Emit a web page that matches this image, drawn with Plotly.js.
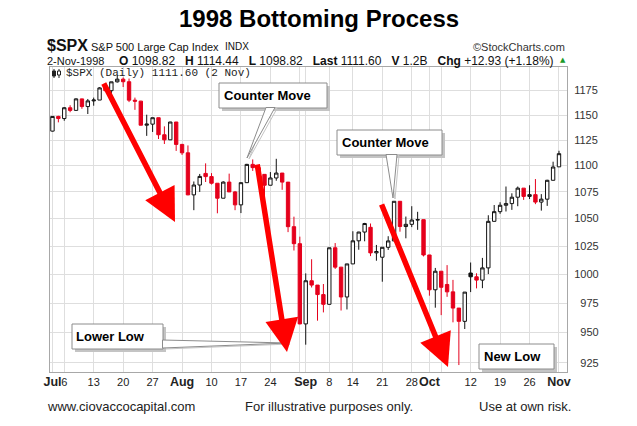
<!DOCTYPE html>
<html><head><meta charset="utf-8">
<script src="https://cdn.plot.ly/plotly-3.0.1.min.js"></script>
<style>html,body{margin:0;padding:0;background:#fff}#chart{width:637px;height:426px}</style>
</head><body><div id="chart"></div>
<script>
// ---- data (S&P 500 daily, Jul 1 - Nov 2 1998) ----
const dates = [
'1998-07-01','1998-07-02','1998-07-06','1998-07-07','1998-07-08','1998-07-09','1998-07-10','1998-07-13','1998-07-14','1998-07-15','1998-07-16','1998-07-17','1998-07-20','1998-07-21','1998-07-22','1998-07-23','1998-07-24','1998-07-27','1998-07-28','1998-07-29','1998-07-30','1998-07-31',
'1998-08-03','1998-08-04','1998-08-05','1998-08-06','1998-08-07','1998-08-10','1998-08-11','1998-08-12','1998-08-13','1998-08-14','1998-08-17','1998-08-18','1998-08-19','1998-08-20','1998-08-21','1998-08-24','1998-08-25','1998-08-26','1998-08-27','1998-08-28','1998-08-31',
'1998-09-01','1998-09-02','1998-09-03','1998-09-04','1998-09-08','1998-09-09','1998-09-10','1998-09-11','1998-09-14','1998-09-15','1998-09-16','1998-09-17','1998-09-18','1998-09-21','1998-09-22','1998-09-23','1998-09-24','1998-09-25','1998-09-28','1998-09-29','1998-09-30',
'1998-10-01','1998-10-02','1998-10-05','1998-10-06','1998-10-07','1998-10-08','1998-10-09','1998-10-12','1998-10-13','1998-10-14','1998-10-15','1998-10-16','1998-10-19','1998-10-20','1998-10-21','1998-10-22','1998-10-23','1998-10-26','1998-10-27','1998-10-28','1998-10-29','1998-10-30',
'1998-11-02'];
const openV = [
1133.84,1148.56,1146.42,1157.33,1154.66,1166.38,1158.56,1164.33,1165.19,1177.69,1174.81,1183.99,1186.75,1184.10,1165.07,1164.08,1139.75,1140.80,1147.27,1130.24,1125.21,1142.95,
1120.67,1112.44,1072.12,1081.43,1092.50,1089.45,1083.14,1068.98,1084.22,1074.91,1062.75,1083.67,1101.20,1098.06,1091.60,1081.24,1088.14,1092.85,1084.19,1042.59,1027.14,
957.28,994.26,990.47,982.26,973.89,1023.46,1006.20,980.19,1009.06,1029.72,1037.68,1042.00,1018.87,1015.00,1023.89,1029.63,1066.09,1042.72,1044.75,1048.69,1049.02,
1017.01,986.39,1002.60,991.00,984.59,970.68,959.44,1001.00,997.71,994.80,1005.53,1047.49,1056.42,1062.39,1063.93,1069.92,1078.48,1070.67,1072.32,1065.34,1068.09,1085.93,
1098.82];
const highV = [
1148.9,1149.2,1158.0,1159.9,1166.9,1166.6,1166.3,1167.7,1178.5,1181.2,1184.0,1190.6,1188.5,1187.4,1167.7,1164.4,1150.3,1147.3,1147.3,1138.6,1143.1,1143.0,
1121.2,1119.7,1084.8,1092.0,1102.2,1092.8,1083.1,1085.0,1092.3,1075.8,1083.7,1101.7,1106.0,1098.8,1091.6,1093.8,1106.6,1092.9,1084.2,1051.8,1033.5,
1000.7,1013.2,990.5,991.4,1023.5,1027.7,1006.2,1009.1,1038.4,1037.9,1046.1,1045.5,1026.0,1024.0,1033.9,1066.1,1066.1,1051.9,1061.5,1056.3,1049.0,
1017.0,1005.5,1002.6,1008.0,995.0,970.7,984.4,1010.3,1000.8,1014.4,1053.1,1062.6,1065.2,1080.0,1073.6,1080.0,1078.5,1081.2,1087.1,1072.8,1086.4,1103.8,
1114.44];
const lowV = [
1133.5,1142.6,1144.2,1152.8,1154.5,1156.3,1151.0,1159.4,1165.2,1173.9,1171.8,1183.2,1178.6,1163.1,1155.2,1139.6,1129.1,1133.0,1126.0,1121.1,1125.2,1114.3,
1110.4,1071.8,1057.8,1074.9,1084.3,1081.9,1054.9,1068.9,1074.9,1057.8,1055.1,1083.6,1094.9,1089.6,1054.9,1081.2,1085.5,1076.9,1037.6,1021.0,957.0,
939.98,988.4,960.0,967.0,973.8,1004.6,968.6,969.5,1009.0,1021.7,1029.3,1016.0,1011.9,993.4,1021.5,1029.6,1038.0,1032.0,1042.2,1039.7,1015.7,
981.3,971.0,964.7,980.3,958.6,923.32,953.0,984.4,987.6,987.8,1000.1,1047.4,1054.4,1056.6,1058.1,1061.5,1067.4,1068.2,1063.4,1057.4,1061.8,1085.9,
1098.82];
const closeV = [
1148.56,1146.42,1157.33,1154.66,1166.38,1158.56,1164.33,1165.19,1177.69,1174.81,1183.99,1186.75,1184.10,1165.07,1164.08,1139.75,1140.80,1147.27,1130.24,1125.21,1142.95,1120.67,
1112.44,1072.12,1081.43,1089.63,1089.45,1083.14,1068.98,1084.22,1074.91,1062.75,1083.67,1101.20,1098.06,1091.60,1081.24,1088.14,1092.85,1084.19,1042.59,1027.14,957.28,
994.26,990.47,982.26,973.89,1023.46,1006.20,980.19,1009.06,1029.72,1037.68,1045.48,1018.87,1020.09,1023.89,1029.63,1066.09,1042.72,1044.75,1048.69,1049.02,1017.01,
986.39,1002.60,988.56,984.59,970.68,959.44,984.39,997.71,994.80,1005.53,1047.49,1056.42,1062.39,1063.93,1069.92,1078.48,1070.67,1072.32,1065.34,1068.09,1085.93,1098.67,
1111.60];
const priorClose = 1133.84;

const tickDates = ['1998-07-01','1998-07-06','1998-07-13','1998-07-20','1998-07-27','1998-08-03','1998-08-10','1998-08-17','1998-08-24','1998-08-31','1998-09-01','1998-09-08','1998-09-14','1998-09-21','1998-09-28','1998-10-01','1998-10-05','1998-10-12','1998-10-19','1998-10-26','1998-11-02'];
const tickLabels = ['Jul','6','13','20','27','Aug','10','17','24','','Sep','8','14','21','28','Oct','','12','19','26','Nov'];
const yTicks = [925,950,975,1000,1025,1050,1075,1100,1125,1150,1175];

// ---- styling / layout ----
const FONT = 'Liberation Sans, Arial, Helvetica, sans-serif';
const RED = '#e5001c', BLACK = '#111111';
const W = 637, H = 426, L = 50, R = 567, T = 67, B = 372;
const px = x => (x - L) / (R - L);
const py = y => (B - y) / (B - T);

// classify candles StockCharts-style: colour by change vs previous close, fill by close vs open
const groups = {bh:[], bf:[], rh:[], rf:[]};
dates.forEach((d, i) => {
  const prev = i === 0 ? priorClose : closeV[i-1];
  const col = closeV[i] >= prev ? 'b' : 'r';
  const fill = closeV[i] >= openV[i] ? 'h' : 'f';
  groups[col + fill].push(i);
});
const style = {
  bh: {line: BLACK, fill: '#ffffff'},
  bf: {line: BLACK, fill: BLACK},
  rh: {line: RED, fill: '#ffffff'},
  rf: {line: RED, fill: RED}
};
const traces = Object.keys(groups).filter(k => groups[k].length).map(k => {
  const idx = groups[k];
  const s = {line: {color: style[k].line, width: 1}, fillcolor: style[k].fill};
  return {
    type: 'candlestick',
    x: idx.map(i => dates[i]),
    open: idx.map(i => openV[i]),
    high: idx.map(i => highV[i]),
    low: idx.map(i => lowV[i]),
    close: idx.map(i => closeV[i]),
    increasing: s, decreasing: s,
    whiskerwidth: 0,
    hoverinfo: 'skip', showlegend: false
  };
});

function boxShapes(x0, y0, x1, y1) {
  return [
    {type:'rect', xref:'paper', yref:'paper', x0:px(x0+3), x1:px(x1+3), y0:py(y1+3), y1:py(y0+3),
     fillcolor:'#c4c4c4', line:{width:0}, layer:'above'},
    {type:'rect', xref:'paper', yref:'paper', x0:px(x0), x1:px(x1), y0:py(y1), y1:py(y0),
     fillcolor:'#ffffff', line:{color:'#8c8c8c', width:1}, layer:'above'}
  ];
}
function tailShapes(pts) {
  const path = (dx, dy) => 'M' + pts.map(p => px(p[0]+dx) + ',' + py(p[1]+dy)).join('L') + 'Z';
  return [
    {type:'path', xref:'paper', yref:'paper', path: path(2, 1), fillcolor:'rgba(0,0,0,0)', line:{color:'#c4c4c4', width:1}, layer:'above'},
    {type:'path', xref:'paper', yref:'paper', path: path(0, 0), fillcolor:'#ffffff', line:{color:'#8c8c8c', width:1}, layer:'above'}
  ];
}

const shapes = [].concat(
  boxShapes(219, 83, 327, 108), tailShapes([[266,107.5],[247,158],[275,107.5]]),
  boxShapes(337, 130, 442, 155), tailShapes([[386,154.5],[393,198],[397,154.5]]),
  boxShapes(72, 324, 163, 349), tailShapes([[162.5,340],[288,343],[162.5,348]]),
  boxShapes(479, 344, 554, 369),
  [ // little legend icon
    {type:'line', xref:'paper', yref:'paper', x0:px(54), x1:px(54), y0:py(78), y1:py(69), line:{color:'#222', width:1}},
    {type:'rect', xref:'paper', yref:'paper', x0:px(52.5), x1:px(55.5), y0:py(76), y1:py(71), fillcolor:'#222', line:{color:'#222', width:1}},
    {type:'line', xref:'paper', yref:'paper', x0:px(59), x1:px(59), y0:py(78), y1:py(69), line:{color:'#222', width:1}},
    {type:'rect', xref:'paper', yref:'paper', x0:px(57.5), x1:px(60.5), y0:py(75), y1:py(71), fillcolor:'#fff', line:{color:'#222', width:1}}
  ]
);

function txt(text, x, y, opts) {
  return Object.assign({text, x:px(x), y:py(y), xref:'paper', yref:'paper', showarrow:false,
    xanchor:'left', yanchor:'middle', font:{family:FONT, size:11, color:'#111'}}, opts || {});
}
function arrow(tip, tail) {
  return {text:'', x:px(tip[0]), y:py(tip[1]), xref:'paper', yref:'paper', showarrow:true,
    ax: tail[0]-tip[0], ay: tail[1]-tip[1], axref:'pixel', ayref:'pixel',
    arrowcolor:'#ff0000', arrowwidth:5.5, arrowhead:2, arrowsize:1.2, standoff:0, startstandoff:0};
}
const NB = '\u00a0';
const statLine = ['<b>O</b>'+NB+'1098.82', '<b>H</b>'+NB+'1114.44', '<b>L</b>'+NB+'1098.82',
  '<b>Last</b>'+NB+'1111.60', '<b>V</b>'+NB+'1.2B', '<b>Chg</b>'+NB+'+12.93'+NB+'(+1.18%)'].join(NB+NB+NB);

const annotations = [
  txt('<b>1998 Bottoming Process</b>', 318.5, 19, {xanchor:'center', font:{family:FONT, size:24, color:'#000'}}),
  txt('<b>$SPX</b>', 45, 46, {font:{family:FONT, size:16, color:'#111'}}),
  txt('S&amp;P 500 Large Cap Index', 89, 47, {font:{family:FONT, size:11, color:'#111'}}),
  txt('INDX', 223, 47, {font:{family:FONT, size:10, color:'#111'}}),
  txt('\u00a9StockCharts.com', 567, 47, {xanchor:'right', font:{family:FONT, size:11, color:'#333'}}),
  txt('2-Nov-1998', 45, 61, {font:{family:FONT, size:11, color:'#111'}}),
  txt(statLine, 556, 61, {xanchor:'right', font:{family:FONT, size:12, color:'#111'}}),
  txt('\u25B2', 563, 60, {xanchor:'center', font:{family:'DejaVu Sans', size:7, color:'#1a9a2a'}}),
  txt('$SPX (Daily) 1111.60 (2 Nov)', 64, 73.5, {font:{family:'Liberation Mono, DejaVu Sans Mono, monospace', size:11, color:'#222'}}),
  txt('<b>Counter Move</b>', 222, 95.5, {font:{family:FONT, size:13, color:'#000'}}),
  txt('<b>Counter Move</b>', 340, 142.5, {font:{family:FONT, size:13, color:'#000'}}),
  txt('<b>Lower Low</b>', 74, 336.5, {font:{family:FONT, size:13, color:'#000'}}),
  txt('<b>New Low</b>', 482, 356.5, {font:{family:FONT, size:13, color:'#000'}}),
  arrow([175,222], [103,82]),
  arrow([287,352], [257,163]),
  arrow([448,367], [381,203]),
  txt('www.ciovaccocapital.com', 45, 406, {font:{family:FONT, size:13, color:'#222'}}),
  txt('For illustrative purposes only.', 243, 406, {font:{family:FONT, size:13, color:'#222'}}),
  txt('Use at own risk.', 573, 406, {xanchor:'right', font:{family:FONT, size:13, color:'#222'}})
];

const layout = {
  width: W, height: H,
  margin: {l: L, r: W - R, t: T, b: H - B, pad: 0},
  paper_bgcolor: '#ffffff', plot_bgcolor: '#ffffff',
  showlegend: false, boxgap: 0.18,
  xaxis: {
    type: 'category', categoryorder: 'array', categoryarray: dates,
    range: [-0.42, 87.36],
    tickvals: tickDates,
    ticktext: tickLabels.map(s => /^[A-Z]/.test(s) ? '<b><span style="font-size:12.5px">' + s + '</span></b>' : s),
    tickangle: 0, ticks: '', showgrid: true, gridcolor: '#dedede', gridwidth: 1,
    showline: true, mirror: true, linecolor: '#a8a8a8', linewidth: 1, zeroline: false,
    tickfont: {family: FONT, size: 11, color: '#222'},
    rangeslider: {visible: false}, fixedrange: true
  },
  yaxis: {
    type: 'log', side: 'right',
    range: [Math.log10(917.7), Math.log10(1199.5)],
    tickvals: yTicks,
    ticktext: yTicks.map(v => (v < 1000 ? '\u2007' : '') + v),
    ticks: '', ticklabelstandoff: 4,
    showgrid: true, gridcolor: '#dedede', gridwidth: 1,
    showline: true, mirror: true, linecolor: '#a8a8a8', linewidth: 1, zeroline: false,
    tickfont: {family: FONT, size: 11, color: '#333'}, fixedrange: true
  },
  shapes: shapes,
  annotations: annotations
};

Plotly.newPlot('chart', traces, layout, {displayModeBar: false, staticPlot: true});
</script>
</body></html>
